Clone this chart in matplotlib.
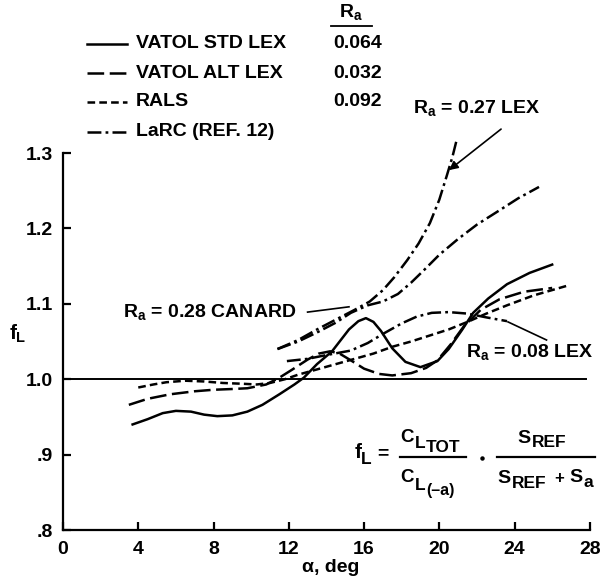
import numpy as np
import matplotlib.pyplot as plt
from matplotlib.lines import Line2D

plt.rcParams['font.family'] = ['Liberation Sans', 'DejaVu Sans']
plt.rcParams['font.weight'] = 'bold'
plt.rcParams['mathtext.fontset'] = 'custom'
plt.rcParams['mathtext.rm'] = 'Liberation Sans:bold'
plt.rcParams['mathtext.it'] = 'Liberation Sans:bold'
plt.rcParams['mathtext.bf'] = 'Liberation Sans:bold'
plt.rcParams['lines.scale_dashes'] = False

# VATOL STD LEX (solid)
std_alpha = [3.7, 4.5, 5.3, 6.0, 6.8, 7.5, 8.2, 9.0, 9.8, 10.6, 11.5, 12.3, 12.8, 13.5,
             14.3, 15.2, 15.7, 16.1, 16.5, 16.9, 17.5, 18.2, 19.0, 19.9, 20.5, 21.2,
             21.8, 22.6, 23.6, 24.8, 26.0]
std_fl = [0.940, 0.947, 0.955, 0.958, 0.957, 0.953, 0.951, 0.952, 0.957, 0.966, 0.980,
          0.993, 1.002, 1.020, 1.037, 1.066, 1.077, 1.081, 1.076, 1.064, 1.041, 1.023,
          1.016, 1.024, 1.040, 1.065, 1.088, 1.107, 1.126, 1.141, 1.152]

# VATOL ALT LEX (long dash)
alt_alpha = [3.5, 4.5, 5.7, 7.0, 8.0, 9.0, 9.8, 10.8, 11.5, 12.2, 13.0, 13.6, 14.2, 14.7,
             15.3, 16.0, 16.8, 17.5, 18.5, 19.3, 19.9, 20.6, 21.3, 22.2, 23.2, 24.5, 26.0]
alt_fl = [0.966, 0.974, 0.980, 0.984, 0.986, 0.987, 0.988, 0.993, 1.002, 1.013, 1.026,
          1.034, 1.037, 1.034, 1.025, 1.014, 1.007, 1.005, 1.008, 1.015, 1.025, 1.046,
          1.070, 1.092, 1.106, 1.116, 1.121]

# RALS (short dash)
rals_alpha = [4.0, 4.8, 5.5, 6.5, 7.5, 8.5, 9.5, 10.3, 11.0, 11.8, 12.5, 13.5, 14.5, 15.5,
              16.5, 17.5, 18.5, 19.5, 20.5, 21.5, 22.5, 23.6, 25.0, 26.8]
rals_fl = [0.989, 0.993, 0.996, 0.998, 0.997, 0.995, 0.994, 0.993, 0.995, 1.000, 1.006,
           1.013, 1.020, 1.027, 1.034, 1.043, 1.050, 1.058, 1.066, 1.076, 1.087, 1.098,
           1.111, 1.124]

# LaRC (ref. 12), three configurations (dash-dot)
lex27_alpha = [11.4, 12.5, 13.5, 14.5, 15.5, 16.3, 17.0, 17.6, 18.3, 18.9, 19.5, 20.0,
               20.4, 20.7, 20.9]
lex27_fl = [1.040, 1.052, 1.066, 1.079, 1.092, 1.103, 1.118, 1.135, 1.158, 1.180, 1.207,
            1.238, 1.270, 1.295, 1.315]

canard_alpha = [11.4, 12.5, 13.5, 14.5, 15.3, 16.2, 17.0, 17.8, 18.5, 19.2, 20.0, 21.0,
                22.0, 23.2, 24.2, 25.3]
canard_fl = [1.040, 1.050, 1.062, 1.075, 1.088, 1.098, 1.103, 1.113, 1.128, 1.145, 1.165,
             1.186, 1.205, 1.224, 1.240, 1.255]

lex08_alpha = [11.9, 13.0, 14.0, 15.3, 16.2, 17.0, 18.0, 18.8, 19.6, 20.5, 21.5, 22.5, 23.6]
lex08_fl = [1.024, 1.027, 1.032, 1.038, 1.048, 1.060, 1.074, 1.083, 1.088, 1.089, 1.087,
            1.082, 1.077]

legend_names = ['VATOL STD LEX', 'VATOL ALT LEX', 'RALS', 'LaRC (REF. 12)']
legend_ra = ['0.064', '0.032', '0.092', '']

x_ticks = [0, 4, 8, 12, 16, 20, 24, 28]
y_ticks = [0.8, 0.9, 1.0, 1.1, 1.2, 1.3]
y_ticklabels = ['.8', '.9', '1.0', '1.1', '1.2', '1.3']

solid = '-'
long_dash = (0, (12, 4))
short_dash = (0, (5.5, 3))
dash_dot = (0, (10, 3, 2, 3))
styles = [solid, long_dash, short_dash, dash_dot]

W, H = 600, 580
fig = plt.figure(figsize=(6, 5.8), dpi=100)
ax = fig.add_axes([0.105, 0.0862, 0.878, 0.65])


def px(x, y):
    # pixel position (from top-left) -> figure fraction
    return x / W, 1 - y / H


lw = 1.8
ax.plot(std_alpha, std_fl, color='black', lw=lw, linestyle=solid)
ax.plot(alt_alpha, alt_fl, color='black', lw=lw, linestyle=long_dash)
ax.plot(rals_alpha, rals_fl, color='black', lw=lw, linestyle=short_dash)
ax.plot(lex27_alpha, lex27_fl, color='black', lw=lw, linestyle=dash_dot, clip_on=False)
ax.plot(canard_alpha, canard_fl, color='black', lw=lw, linestyle=dash_dot)
ax.plot(lex08_alpha, lex08_fl, color='black', lw=lw, linestyle=dash_dot)

# reference line f_L = 1
ax.plot([0, 27.8], [1.0, 1.0], color='black', lw=1.4)

ax.set_xlim(0, 28)
ax.set_ylim(0.8, 1.3)
ax.set_xticks(x_ticks)
ax.set_yticks(y_ticks)
ax.set_yticklabels(y_ticklabels)
ax.spines['top'].set_visible(False)
ax.spines['right'].set_visible(False)
ax.spines['left'].set_linewidth(1.6)
ax.spines['bottom'].set_linewidth(1.6)
ax.tick_params(direction='in', length=6, width=1.6, labelsize=14)
ax.tick_params(axis='x', pad=8)
ax.tick_params(axis='y', pad=7)
for lab in ax.get_xticklabels() + ax.get_yticklabels():
    lab.set_fontweight('bold')

fig.text(*px(331, 572), 'α, deg', fontsize=14, ha='center', va='baseline')
ax.text(-2.4, 1.06, r'$f_L$', fontsize=15, ha='center', va='center', clip_on=False)

# annotations
tsize = 14
ax.text(18.6, 1.36, r'$R_a$ = 0.27 LEX', fontsize=tsize, ha='left', va='center', clip_on=False)
ax.annotate('', xy=(20.4, 1.275), xytext=(23.4, 1.334), annotation_clip=False,
            arrowprops=dict(arrowstyle='-|>', color='black', lw=1.2, mutation_scale=13))
ax.text(3.2, 1.089, r'$R_a$ = 0.28 CANARD', fontsize=tsize, ha='left', va='center')
ax.plot([13.0, 15.2], [1.089, 1.096], color='black', lw=1.2)
ax.text(21.4, 1.036, r'$R_a$ = 0.08 LEX', fontsize=tsize, ha='left', va='center', clip_on=False)
ax.plot([25.7, 23.65], [1.052, 1.076], color='black', lw=1.2)

# f_L formula, built piece by piece (x px, baseline px, text, size)
formula = [
    (355, 458, 'f', 15), (361, 464, 'L', 12.5),
    (377, 458, '=', 14),
    (400, 442, 'C', 13.5), (415, 448, 'L', 12.5), (426, 452, 'TOT', 12.5),
    (400, 482, 'C', 13.5), (415, 490, 'L', 12.5), (426, 495, '(–a)', 11.5),
    (517, 443, 'S', 14), (532, 447, 'REF', 12.5),
    (497, 483, 'S', 14), (512, 488, 'REF', 12.5), (554, 483, '+', 12),
    (569, 482, 'S', 14), (584, 487, 'a', 12.5),
]
for x, y, s, size in formula:
    fig.text(*px(x, y), s, fontsize=size, ha='left', va='baseline')
fig.add_artist(Line2D([400 / W, 466 / W], [1 - 457 / H] * 2, color='black', lw=1.6))
fig.add_artist(Line2D([497 / W, 595 / W], [1 - 457 / H] * 2, color='black', lw=1.6))
fig.add_artist(Line2D([482 / W], [1 - 458 / H], marker='o', markersize=2.2,
                      color='black', linestyle='none'))

# legend block drawn in figure coordinates
row_y = [44, 73, 102, 132]
for name, ra, ls, y in zip(legend_names, legend_ra, styles, row_y):
    fy = 1 - y / H
    fig.add_artist(Line2D([87 / W, 127 / W], [fy, fy], color='black', lw=lw, linestyle=ls))
    fig.text(136 / W, fy, name, fontsize=tsize, ha='left', va='center')
    if ra:
        fig.text(333 / W, fy, ra, fontsize=tsize, ha='left', va='center')
fig.text(*px(351, 12), r'$R_a$', fontsize=tsize, ha='center', va='center')
fig.add_artist(Line2D([331 / W, 372 / W], [1 - 26 / H] * 2, color='black', lw=1.3))

plt.savefig('out.png', dpi=100)
